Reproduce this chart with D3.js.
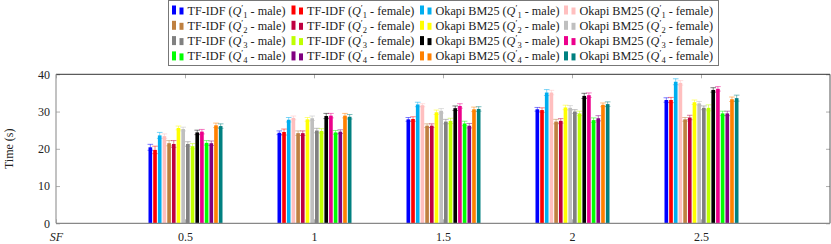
<!DOCTYPE html>
<html><head><meta charset="utf-8">
<script src="https://cdn.jsdelivr.net/npm/d3@7"></script>
<style>body{margin:0;background:#fff} svg{display:block}</style>
</head><body><svg id="c" width="831" height="244"></svg>
<script>
// ---- data ----
const sf = [0.5, 1, 1.5, 2, 2.5];
const xTickValues = [0, 0.5, 1, 1.5, 2, 2.5];
const xTickLabels = ["SF", "0.5", "1", "1.5", "2", "2.5"];
const yTickValues = [0, 10, 20, 30, 40];
const yLabel = "Time (s)";

const seriesMethod = ["TF-IDF","TF-IDF","Okapi BM25","Okapi BM25","TF-IDF","TF-IDF","Okapi BM25","Okapi BM25",
                      "TF-IDF","TF-IDF","Okapi BM25","Okapi BM25","TF-IDF","TF-IDF","Okapi BM25","Okapi BM25"];
const seriesQuery  = [1,1,1,1,2,2,2,2,3,3,3,3,4,4,4,4];
const seriesGender = ["male","female","male","female","male","female","male","female",
                      "male","female","male","female","male","female","male","female"];
const seriesColors = ["#0000ff","#ff0000","#00aeef","#ffbfbf","#bf8040","#bf0040","#ffff00","#bfbfbf",
                      "#808080","#bfff00","#000000","#ec008c","#00ff00","#800080","#ff8000","#008080"];

const tfidfQ1Male    = [20.4, 24.3, 27.9, 30.6, 33.1];
const tfidfQ1Female  = [19.7, 24.5, 28.0, 30.4, 33.1];
const okapiQ1Male    = [23.6, 27.8, 31.9, 35.1, 38.0];
const okapiQ1Female  = [23.4, 28.3, 31.7, 35.1, 37.7];
const tfidfQ2Male    = [21.5, 24.2, 26.2, 27.3, 27.9];
const tfidfQ2Female  = [21.3, 24.2, 26.2, 27.5, 28.4];
const okapiQ2Male    = [25.6, 27.9, 29.8, 31.1, 32.5];
const okapiQ2Female  = [25.3, 28.2, 30.2, 31.0, 32.2];
const tfidfQ3Male    = [21.3, 24.9, 27.3, 30.0, 31.0];
const tfidfQ3Female  = [20.7, 24.8, 27.5, 29.5, 31.0];
const okapiQ3Male    = [24.4, 28.8, 30.9, 34.2, 35.8];
const okapiQ3Female  = [24.6, 28.9, 31.5, 34.4, 36.1];
const tfidfQ4Male    = [21.6, 24.4, 26.8, 27.7, 29.5];
const tfidfQ4Female  = [21.5, 24.6, 26.2, 28.2, 29.5];
const okapiQ4Male    = [26.3, 28.9, 30.6, 31.8, 33.3];
const okapiQ4Female  = [26.1, 28.6, 30.7, 32.0, 33.6];

const seriesValues = [tfidfQ1Male, tfidfQ1Female, okapiQ1Male, okapiQ1Female,
                      tfidfQ2Male, tfidfQ2Female, okapiQ2Male, okapiQ2Female,
                      tfidfQ3Male, tfidfQ3Female, okapiQ3Male, okapiQ3Female,
                      tfidfQ4Male, tfidfQ4Female, okapiQ4Male, okapiQ4Female];
const seriesErrors = [
  [0.8,0.5,0.5,0.5,0.6],[1.0,0.8,0.6,0.6,0.7],[0.8,0.6,0.6,0.8,0.8],[0.6,0.5,0.4,0.6,0.6],
  [0.7,0.6,0.5,0.6,0.5],[0.9,0.6,0.5,0.6,0.6],[0.5,0.5,0.6,0.6,0.6],[0.5,0.6,0.6,0.6,0.5],
  [0.6,0.6,0.6,0.5,0.5],[0.7,0.6,0.7,0.6,0.8],[0.6,0.7,0.6,0.7,0.6],[0.6,0.6,0.6,0.6,0.6],
  [0.6,0.5,0.6,0.6,0.6],[0.6,0.5,0.6,0.7,0.6],[0.6,0.6,0.6,0.5,0.6],[0.6,0.6,0.6,0.6,0.8]
];

// ---- layout ----
const svg = d3.select("#c");
const FONT = "'Liberation Serif', 'DejaVu Serif', serif";
const L = 56, R = 830, T = 74.3, B = 223.3;
const x = d3.scaleLinear().domain([0, 3]).range([L, R]);
const y = d3.scaleLinear().domain([0, 40]).range([B, T]);
const inner = d3.scaleBand().domain(d3.range(seriesValues.length)).range([-36.5, 37.5]).paddingInner(0.22);

// bars
const gBars = svg.append("g");
seriesValues.forEach((vals, i) => {
  const g = gBars.append("g");
  g.selectAll("rect").data(vals).join("rect")
    .attr("x", (d, j) => x(sf[j]) + inner(i))
    .attr("width", inner.bandwidth())
    .attr("y", d => y(d))
    .attr("height", d => y(0) - y(d))
    .attr("fill", seriesColors[i]);
  const eg = g.append("g").attr("stroke", seriesColors[i]).attr("stroke-opacity", 0.5).attr("stroke-width", 1);
  vals.forEach((v, j) => {
    const cx = x(sf[j]) + inner(i) + inner.bandwidth() / 2;
    const e = seriesErrors[i][j];
    eg.append("line").attr("x1", cx).attr("x2", cx).attr("y1", y(v - e)).attr("y2", y(v + e));
    eg.append("line").attr("x1", cx - 2.8).attr("x2", cx + 2.8).attr("y1", y(v + e)).attr("y2", y(v + e));
    eg.append("line").attr("x1", cx - 2.8).attr("x2", cx + 2.8).attr("y1", y(v - e)).attr("y2", y(v - e));
  });
});

// axes
const axL = svg.append("g").attr("transform", `translate(${L},0)`)
  .call(d3.axisLeft(y).tickValues(yTickValues).tickSizeInner(-4).tickSizeOuter(0).tickPadding(6));
const axR = svg.append("g").attr("transform", `translate(${R},0)`)
  .call(d3.axisRight(y).tickValues(yTickValues).tickSizeInner(-4).tickSizeOuter(0).tickFormat(""));
const axB = svg.append("g").attr("transform", `translate(0,${B})`)
  .call(d3.axisBottom(x).tickValues(xTickValues).tickSizeInner(-4).tickSizeOuter(0).tickPadding(9)
    .tickFormat((d, i) => xTickLabels[i]));
const axT = svg.append("g").attr("transform", `translate(0,${T})`)
  .call(d3.axisTop(x).tickValues(xTickValues).tickSizeInner(-4).tickSizeOuter(0).tickFormat(""));
[axL, axR, axB, axT].forEach(a => {
  a.select(".domain").remove();
  a.selectAll(".tick line").attr("stroke", "#9a9a9a").attr("stroke-width", 0.8);
  a.selectAll("text").attr("font-family", FONT).attr("font-size", 12).attr("fill", "#222");
});
axB.selectAll(".tick text").filter((d, i) => i === 0).attr("font-style", "italic");

// frame
svg.append("line").attr("x1", L).attr("x2", R).attr("y1", T).attr("y2", T).attr("stroke", "#333").attr("stroke-width", 1);
svg.append("line").attr("x1", R).attr("x2", R).attr("y1", T).attr("y2", B).attr("stroke", "#555").attr("stroke-width", 1);
svg.append("line").attr("x1", L).attr("x2", L).attr("y1", T).attr("y2", B).attr("stroke", "#999").attr("stroke-width", 1.2);
svg.append("line").attr("x1", L).attr("x2", R).attr("y1", B).attr("y2", B).attr("stroke", "#888").attr("stroke-width", 1.2);

// y label
svg.append("text").attr("transform", `translate(13,${(T + B) / 2}) rotate(-90)`)
  .attr("text-anchor", "middle").attr("font-family", FONT).attr("font-size", 12).attr("fill", "#222")
  .text(yLabel);

// legend
const lg = svg.append("g");
const colX = [172, 291.5, 420, 564];
const rowY = [10.5, 25.8, 41.1, 56.4];
lg.append("rect").attr("x", 168.5).attr("y", 0.5).attr("width", 550).attr("height", 65)
  .attr("fill", "#fff").attr("stroke", "#777").attr("stroke-width", 1);
seriesValues.forEach((vals, i) => {
  const cx = colX[i % 4], cy = rowY[Math.floor(i / 4)];
  lg.append("rect").attr("x", cx).attr("y", cy - 5).attr("width", 4).attr("height", 9).attr("fill", seriesColors[i]);
  lg.append("rect").attr("x", cx + 7.5).attr("y", cy - 3).attr("width", 4).attr("height", 7).attr("fill", seriesColors[i]);
  const t = lg.append("text").attr("x", cx + 15.5).attr("y", cy + 4)
    .attr("font-family", FONT).attr("font-size", 12.2).attr("fill", "#222");
  t.append("tspan").text(seriesMethod[i] + " (");
  t.append("tspan").attr("font-style", "italic").text("Q");
  t.append("tspan").attr("font-size", 9).attr("dy", -4).text("′");
  t.append("tspan").attr("font-size", 8.5).attr("dy", 7).text(seriesQuery[i]);
  t.append("tspan").attr("dy", -3).text(" - " + seriesGender[i] + ")");
});
</script></body></html>
